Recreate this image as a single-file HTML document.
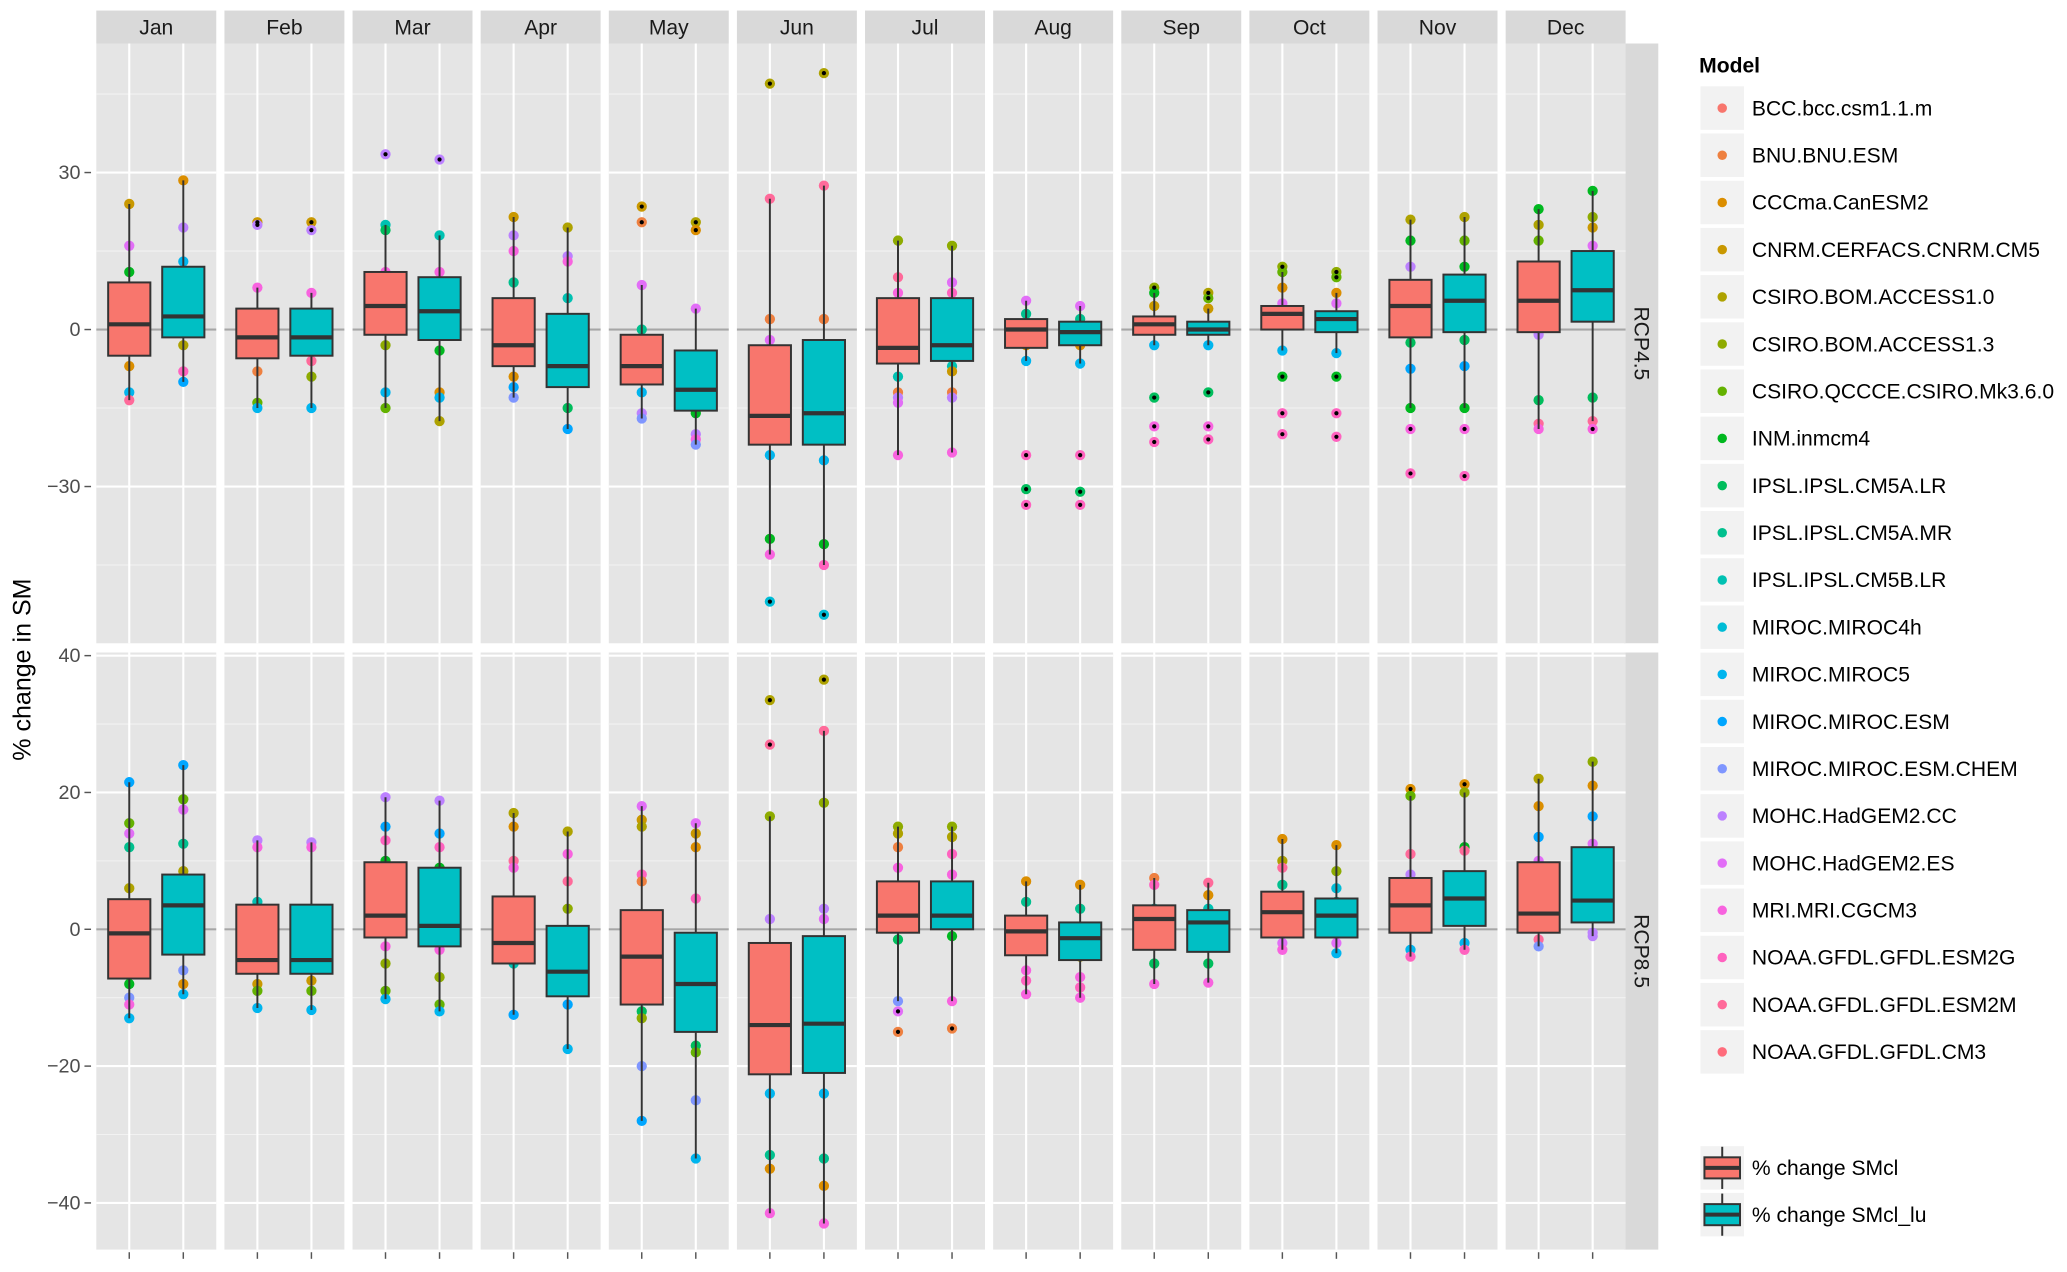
<!DOCTYPE html>
<html><head><meta charset="utf-8"><style>
html,body{margin:0;padding:0;background:#fff;}
svg{display:block;font-family:"Liberation Sans",sans-serif;}
</style></head><body>
<svg id="chart" width="2067" height="1272" viewBox="0 0 1568 965" xmlns="http://www.w3.org/2000/svg"></svg>
<script>
const months=["Jan","Feb","Mar","Apr","May","Jun","Jul","Aug","Sep","Oct","Nov","Dec"];
const facets=["RCP4.5","RCP8.5"];
const seriesNames=["% change SMcl","% change SMcl_lu"];
const models=["BCC.bcc.csm1.1.m","BNU.BNU.ESM","CCCma.CanESM2","CNRM.CERFACS.CNRM.CM5","CSIRO.BOM.ACCESS1.0","CSIRO.BOM.ACCESS1.3","CSIRO.QCCCE.CSIRO.Mk3.6.0","INM.inmcm4","IPSL.IPSL.CM5A.LR","IPSL.IPSL.CM5A.MR","IPSL.IPSL.CM5B.LR","MIROC.MIROC4h","MIROC.MIROC5","MIROC.MIROC.ESM","MIROC.MIROC.ESM.CHEM","MOHC.HadGEM2.CC","MOHC.HadGEM2.ES","MRI.MRI.CGCM3","NOAA.GFDL.GFDL.ESM2G","NOAA.GFDL.GFDL.ESM2M","NOAA.GFDL.GFDL.CM3"];
const q1_45_cl=[-5,-5.5,-1,-7,-10.5,-22,-6.5,-3.5,-1,0,-1.5,-0.5];
const med_45_cl=[1,-1.5,4.5,-3,-7,-16.5,-3.5,0,1,3,4.5,5.5];
const q3_45_cl=[9,4,11,6,-1,-3,6,2,2.5,4.5,9.5,13];
const q1_45_lu=[-1.5,-5,-2,-11,-15.5,-22,-6,-3,-1,-0.5,-0.5,1.5];
const med_45_lu=[2.5,-1.5,3.5,-7,-11.5,-16,-3,-0.5,0,2,5.5,7.5];
const q3_45_lu=[12,4,10,3,-4,-2,6,1.5,1.5,3.5,10.5,15];
const q1_85_cl=[-7.2,-6.5,-1.2,-5,-11,-21.2,-0.5,-3.8,-3,-1.2,-0.5,-0.5];
const med_85_cl=[-0.6,-4.5,2,-2,-4,-14,2,-0.3,1.5,2.5,3.5,2.3];
const q3_85_cl=[4.4,3.6,9.8,4.8,2.8,-2,7,2,3.5,5.5,7.5,9.8];
const q1_85_lu=[-3.7,-6.5,-2.5,-9.8,-15,-21,0,-4.5,-3.3,-1.2,0.5,1];
const med_85_lu=[3.5,-4.5,0.5,-6.2,-8,-13.8,2,-1.3,1,2,4.5,4.2];
const q3_85_lu=[8,3.6,9,0.5,-0.5,-1,7,1,2.8,4.5,8.5,12];
const pts_45_cl=["24:3 16:16 11:7 1:10 -7:2 -12:12 -13.5:19 5:9","20.5:3 20:15 8:17 -8:1 -14:6 -15:12 0:10","33.5:15 20:10 19:8 11:17 -3:5 -12:12 -15:6 5:3","21.5:3 18:15 15:17 9:9 -9:2 -11:13 -13:14 0:10","23.5:3 20.5:1 8.5:16 0:9 -6:2 -12:12 -16:15 -17:14","47:4 25:19 2:1 -2:16 -24:12 -40:7 -43:17 -52:11","17:5 10:19 7:17 -9:10 -12:1 -13:15 -14:16 -24:17","5.5:16 3:9 -3:2 -6:12 -24:18 -30.5:8 -33.5:18","8:5 7:7 4.5:3 -3:12 -13:8 -18.5:17 -21.5:18","12:5 11:6 8:2 5:16 -4:12 -9:7 -16:18 -20:18","21:4 17:7 12:15 -2.5:8 -7.5:13 -15:7 -19:17 -27.5:18","23:7 20:4 17:6 -1:15 -13.5:8 -18:19 -19:17"];
const pts_45_lu=["28.5:2 19.5:15 13:12 9:10 -3:4 -8:18 -10:13 4:11","20.5:3 19:15 7:17 -6:19 -9:5 -15:12 0:10","32.5:15 18:10 11:17 -4:7 -12:2 -13:12 -17.5:4 4:3","19.5:4 14:15 13:17 6:10 -10:12 -15:8 -19:13 -6:2","20.5:4 19:2 4:16 -5:8 -16:7 -20:15 -21:17 -22:14","49:4 27.5:19 2:1 -25:12 -41:7 -45:18 -54.5:11 -3:10","16:5 9:16 7:18 -7:10 -8:3 -12:1 -13:15 -23.5:17","4.5:16 2:9 -3:2 -6.5:12 -24:18 -31:8 -33.5:18","7:4 6:6 4:3 -3:12 -12:8 -18.5:17 -21:18","11:5 10:6 7:2 5:16 -4.5:12 -9:7 -16:18 -20.5:18","21.5:4 17:6 12:7 -2:8 -7:13 -15:7 -19:17 -28:18","26.5:7 21.5:5 19.5:3 16:16 -13:8 -17.5:19 -19:17"];
const pts_85_cl=["21.5:13 15.5:6 14:16 12:9 6:4 -8:7 -10:14 -11:17 -13:12","13:15 12:17 4:10 -8:3 -9:6 -11.5:12","19.3:15 15:13 13:18 10:7 -2.5:17 -5:5 -9:6 -10.2:12","17:4 15:2 10:19 9:17 -5:10 -12.5:13","18:16 16:3 15:4 8:18 7:1 -12:8 -13:5 -20:14 -28:13","33.5:4 27:19 16.5:5 1.5:15 -24:12 -33:9 -35:2 -41.5:17","15:5 14:4 12:1 9:17 -1.5:8 -10.5:14 -12:16 -15:1","7:2 4:9 -3:4 -6:17 -7.5:18 -9.5:17","7.5:1 6.5:18 3:10 -5:8 -8:17","13.2:2 10:4 9:19 6.5:9 -2:16 -3:17","20.5:2 19.5:6 11:19 8:15 -3:12 -4:18","22:4 18:2 13.5:13 10:16 -1.5:19 -2.5:14"];
const pts_85_lu=["24:13 19:6 17.5:16 12.5:9 8.5:4 -6:14 -8:2 -9.5:12","12.7:15 12:17 3:10 -7.5:3 -9:6 -11.8:12","18.8:15 14:13 12:18 9:7 -3:17 -7:5 -11:6 -12:12","14.3:4 11:17 7:19 3:5 -11:13 -17.5:12","15.5:16 14:3 12:2 4.5:18 -17:8 -18:6 -25:14 -33.5:12","36.5:4 29:19 18.5:5 3:15 1.5:16 -24:12 -33.5:9 -37.5:2 -43:17","15:5 13.5:4 11:18 8:17 -1:7 -10.5:17 -14.5:1","6.5:2 3:9 -4:4 -7:17 -8.5:18 -10:17","6.8:19 5:2 3:10 -5:8 -7.8:17","12.3:2 8.5:5 6:11 4:9 -2:16 -3.5:12","21.2:2 20:5 12:7 11.5:19 -2:12 -3:18","24.5:5 21:2 16.5:13 12.5:16 -0.5:15 -1:15"];
const ticks45=[30,0,-30];
const ticks85=[40,20,0,-20,-40];

const modelColors=["#F8766D","#EE8040","#DB8E00","#C99800","#AEA200","#8EAB00","#64B200","#00B81F","#00BD5C","#00C08E","#00C1B2","#00BCD6","#00B5EE","#00A6FF","#7F96FF","#BC81FF","#E26EF7","#F863DF","#FF62BF","#FF6A9A","#FF6C7C"];
const fillColors=["#F8766D","#00BFC4"];
const NS="http://www.w3.org/2000/svg";
const svg=document.getElementById("chart");
function mk(tag,attrs,parent){const e=document.createElementNS(NS,tag);for(const k in attrs)e.setAttribute(k,attrs[k]);(parent||svg).appendChild(e);return e;}
const PX0=73,PSTEP=97.2,PW=91;
const facetCfg=[
 {top:33,bot:488,y:v=>250-3.97*v,ticks:ticks45,minor:[45,15,-15,-45],q1:[q1_45_cl,q1_45_lu],med:[med_45_cl,med_45_lu],q3:[q3_45_cl,q3_45_lu],pts:[pts_45_cl,pts_45_lu]},
 {top:495,bot:948,y:v=>705-5.19*v,ticks:ticks85,minor:[30,10,-10,-30],q1:[q1_85_cl,q1_85_lu],med:[med_85_cl,med_85_lu],q3:[q3_85_cl,q3_85_lu],pts:[pts_85_cl,pts_85_lu]}
];
const xc=(m,s)=>PX0+m*PSTEP+(s===0?25:66);
months.forEach((m,i)=>{
 const g=mk("g",{});
 
 
 mk("rect",{x:PX0+i*PSTEP,y:8,width:PW,height:25,fill:"#D9D9D9"},g);
 const t=mk("text",{x:PX0+i*PSTEP+PW/2,y:26,"text-anchor":"middle","font-size":16,fill:"#1a1a1a"},g);t.textContent=m;
});
facetCfg.forEach((F,fi)=>{
 const fg=mk("g",{});
 
 
 mk("rect",{x:1232,y:F.top,width:26,height:F.bot-F.top,fill:"#D9D9D9"},fg);
 const st=mk("text",{x:1240,y:(F.top+F.bot)/2,"text-anchor":"middle","font-size":16,fill:"#1a1a1a",transform:`rotate(90 1240 ${(F.top+F.bot)/2})`},fg);st.textContent=facets[fi];
 
 
 F.ticks.forEach(t=>{
  const y=F.y(t);
  mk("line",{x1:64,x2:69,y1:y,y2:y,stroke:"#555","stroke-width":1.1},fg);
  const tx=mk("text",{x:61,y:y+5,"text-anchor":"end","font-size":15,fill:"#4D4D4D"},fg);tx.textContent=t===0?"0":(t<0?"\u2212"+(-t):t);
  
  
 });
 months.forEach((m,i)=>{
  const px=PX0+i*PSTEP;
  const pg=mk("g",{},fg);
  
  
  mk("rect",{x:px,y:F.top,width:PW,height:F.bot-F.top,fill:"#E5E5E5"},pg);
  F.minor.forEach(v=>{const y=F.y(v);if(y>F.top&&y<F.bot)mk("line",{x1:px,x2:px+PW,y1:y,y2:y,stroke:"#F2F2F2","stroke-width":0.8},pg);});
  F.ticks.forEach(v=>{const y=F.y(v);mk("line",{x1:px,x2:px+PW,y1:y,y2:y,stroke:"#fff","stroke-width":1.6},pg);});
  [0,1].forEach(s=>mk("line",{x1:xc(i,s),x2:xc(i,s),y1:F.top,y2:F.bot,stroke:"#fff","stroke-width":1.6},pg));
  mk("line",{x1:px,x2:px+PW,y1:F.y(0),y2:F.y(0),stroke:"#A6A6A6","stroke-width":1.6},pg);
  [0,1].forEach(s=>{
   const q1=F.q1[s][i],md=F.med[s][i],q3=F.q3[s][i];
   const vals=F.pts[s][i].split(" ").map(p=>p.split(":").map(Number));
   const iqr=q3-q1;
   const inl=vals.filter(v=>v[0]>=q1-1.5*iqr&&v[0]<=q3+1.5*iqr).map(v=>v[0]);
   const whi=Math.max(q3,...inl),wlo=Math.min(q1,...inl);
   const x=xc(i,s);
   vals.forEach(v=>{
    const c=mk("circle",{cx:x,cy:F.y(v[0]),r:3.9,fill:modelColors[v[1]]},pg);
    
    
   });
   mk("line",{x1:x,x2:x,y1:F.y(whi),y2:F.y(wlo),stroke:"#333","stroke-width":1.5},pg);
   vals.forEach(v=>{if(v[0]>whi||v[0]<wlo)mk("circle",{cx:x,cy:F.y(v[0]),r:1.6,fill:"#000"},pg);});
   const b=mk("rect",{x:x-16,y:F.y(q3),width:32,height:F.y(q1)-F.y(q3),fill:fillColors[s],stroke:"#333","stroke-width":1.5},pg);
   
   
   mk("line",{x1:x-16,x2:x+16,y1:F.y(md),y2:F.y(md),stroke:"#333","stroke-width":3.2},pg);
   if(fi===1)mk("line",{x1:x,x2:x,y1:950,y2:955,stroke:"#555","stroke-width":1.1},pg);
  });
 });
});
const yt=mk("text",{x:23,y:508,"text-anchor":"middle","font-size":19,fill:"#000",transform:"rotate(-90 23 508)"});yt.textContent="% change in SM";


const lg=mk("g",{});


const lt=mk("text",{x:1289,y:55,"font-size":16,"font-weight":"bold",fill:"#000"},lg);lt.textContent="Model";
models.forEach((n,k)=>{
 const cy=82+k*35.8;
 const e=mk("g",{},lg);
 
 
 mk("rect",{x:1290,y:cy-16.5,width:33,height:33,fill:"#F2F2F2"},e);
 mk("circle",{cx:1306.5,cy:cy,r:3.6,fill:modelColors[k]},e);
 const t=mk("text",{x:1329,y:cy+5.5,"font-size":16,fill:"#000"},e);t.textContent=n;
});
const lg2=mk("g",{});


seriesNames.forEach((n,s)=>{
 const cy=886+s*35.5;
 const e=mk("g",{},lg2);
 
 
 mk("rect",{x:1290,y:cy-16.5,width:33,height:33,fill:"#F2F2F2"},e);
 mk("line",{x1:1306.5,x2:1306.5,y1:cy-16,y2:cy+16,stroke:"#333","stroke-width":1.5},e);
 mk("rect",{x:1293,y:cy-8,width:27,height:16,fill:fillColors[s],stroke:"#333","stroke-width":1.5},e);
 mk("line",{x1:1293,x2:1320,y1:cy,y2:cy,stroke:"#333","stroke-width":3},e);
 const t=mk("text",{x:1329,y:cy+5.5,"font-size":16,fill:"#000"},e);t.textContent=n;
});
</script>
</body></html>
